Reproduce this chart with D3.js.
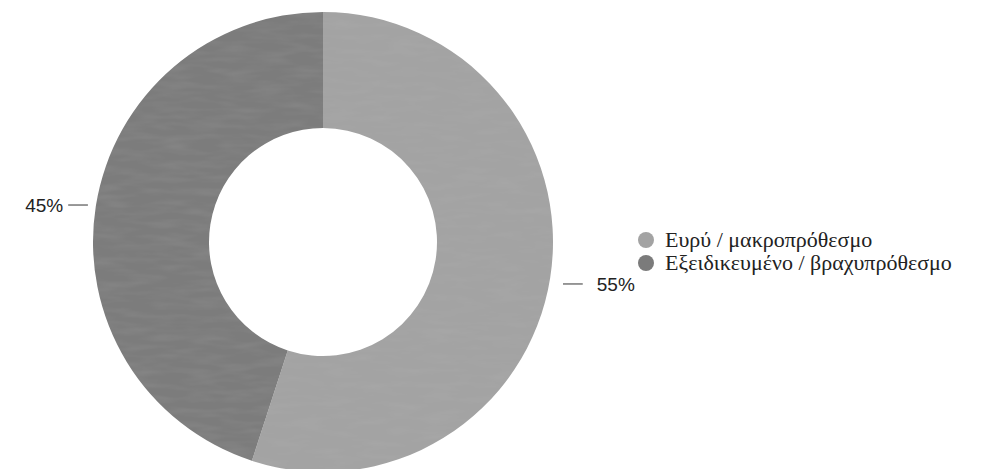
<!DOCTYPE html>
<html><head><meta charset="utf-8">
<script src="https://cdn.jsdelivr.net/npm/d3@7"></script>
<style>body{margin:0;background:#fff}svg{display:block}</style>
</head><body>
<svg id="c" width="994" height="469"></svg>
<script>
const categories = ["Ευρύ / μακροπρόθεσμο", "Εξειδικευμένο / βραχυπρόθεσμο"];
const values = [55, 45];
const labels = ["55%", "45%"];
const colors = ["#a3a3a3", "#7b7b7b"];

const svg = d3.select("#c");
const cx = 323, cy = 242, R = 230, r = 114;
const pie = d3.pie().sort(null).value(d => d)(values);
const arc = d3.arc().innerRadius(r).outerRadius(R);

const defs = svg.append("defs");
const f = defs.append("filter").attr("id","tex").attr("x","0").attr("y","0").attr("width","100%").attr("height","100%");
f.append("feTurbulence").attr("type","fractalNoise").attr("baseFrequency","0.03 0.15").attr("numOctaves","2").attr("seed","7").attr("result","n");
f.append("feColorMatrix").attr("in","n").attr("type","matrix")
 .attr("values","0 0 0 0 0.5  0 0 0 0 0.5  0 0 0 0 0.5  0.22 0 0 0 -0.08").attr("result","m");
f.append("feComposite").attr("in","m").attr("in2","SourceGraphic").attr("operator","atop");

const g = svg.append("g").attr("transform",`translate(${cx},${cy})`);
g.selectAll("path").data(pie).join("path")
  .attr("d", arc).attr("fill", (d,i) => colors[i]).attr("filter","url(#tex)");

pie.forEach((d,i) => {
  const a = (d.startAngle + d.endAngle) / 2;
  const s = Math.sin(a);
  const right = s > 0;
  const y = -Math.cos(a) * R + (right ? 6 : -1);
  const x1 = s * (R + (right ? 13 : 8)), x2 = s * (R + (right ? 33 : 28));
  g.append("line").attr("x1", x1).attr("x2", x2).attr("y1", y).attr("y2", y)
    .attr("stroke", "#333").attr("stroke-width", 1);
  g.append("text").attr("x", x2 + (right ? 14 : -5)).attr("y", y)
    .attr("dy", "0.35em").attr("text-anchor", right ? "start" : "end")
    .attr("font-family", "'Liberation Sans', Arial, sans-serif").attr("font-size", 19)
    .attr("fill", "#222").text(labels[i]);
});

const lg = svg.append("g").attr("transform","translate(646,240)");
categories.forEach((c,i) => {
  const row = lg.append("g").attr("transform",`translate(0,${i*23})`);
  row.append("circle").attr("r",8).attr("fill",colors[i]);
  row.append("text").attr("x",19).attr("dy","0.33em")
    .attr("font-family","'Liberation Serif', 'DejaVu Serif', serif").attr("font-size",22)
    .attr("fill","#222").text(c);
});
</script>
</body></html>
